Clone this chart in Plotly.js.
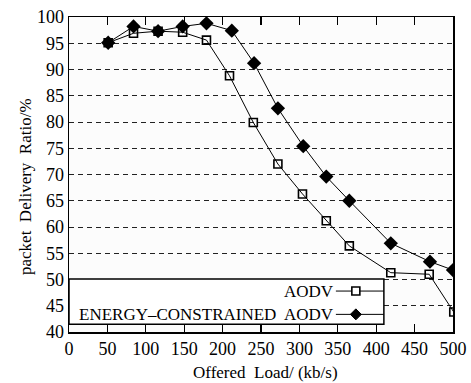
<!DOCTYPE html>
<html><head><meta charset="utf-8">
<script src="https://cdn.plot.ly/plotly-3.0.1.min.js"></script>
<style>html,body{margin:0;padding:0;background:#fff}#chart{width:471px;height:383px}</style>
</head><body><div id="chart"></div>
<script>
const loadEC = [51, 84, 116, 148, 179, 212, 241, 272, 305, 335, 365, 419, 470, 500];
const pdrEC  = [95.1, 98.2, 97.3, 98.2, 98.8, 97.4, 91.2, 82.6, 75.4, 69.6, 65.0, 56.9, 53.4, 51.8];
const loadAODV = [51, 84, 116, 148, 179, 209, 240, 272, 304, 335, 365, 419, 469, 501];
const pdrAODV  = [95.1, 96.9, 97.3, 97.1, 95.6, 88.8, 79.9, 72.0, 66.3, 61.2, 56.4, 51.3, 51.0, 43.8];
const xTicks = [0, 50, 100, 150, 200, 250, 300, 350, 400, 450, 500];
const yTicks = [40, 45, 50, 55, 60, 65, 70, 75, 80, 85, 90, 95, 100];
const seriesNames = ['AODV', 'ENERGY\u2013CONSTRAINED  AODV'];
const xTitle = 'Offered  Load/ (kb/s)';
const yTitle = 'packet  Delivery  Ratio/%';

const font = 'Liberation Serif, Times New Roman, serif';
const traces = [
  {x: loadAODV, y: pdrAODV, mode: 'lines+markers', name: seriesNames[0], showlegend: false,
   line: {color: '#000', width: 1},
   marker: {symbol: 'square-open', size: 8, color: '#000', line: {width: 1.6, color: '#000'}}},
  {x: loadEC, y: pdrEC, mode: 'lines+markers', name: seriesNames[1], showlegend: false,
   line: {color: '#000', width: 1},
   marker: {symbol: 'diamond', size: 11, color: '#000'}}
];

// legend geometry (paper coords)
const lgX0 = 0, lgX1 = 0.82, lgY0 = 0.025, lgY1 = 0.168;
const rows = [0.130, 0.056];
const sx0 = 0.695, sx1 = 0.82, mx = 0.747;
const shapes = [
  {type: 'rect', xref: 'paper', yref: 'paper', x0: lgX0, x1: lgX1, y0: lgY0, y1: lgY1,
   fillcolor: '#fff', line: {color: '#000', width: 1.5}, layer: 'above'},
];
const annotations = [];
rows.forEach((ry, i) => {
  shapes.push({type: 'line', xref: 'paper', yref: 'paper', x0: sx0, x1: sx1, y0: ry, y1: ry,
    line: {color: '#000', width: 1}, layer: 'above'});
  annotations.push({xref: 'paper', yref: 'paper', x: sx0, y: ry, xanchor: 'right', yanchor: 'middle',
    text: seriesNames[i], showarrow: false, font: {family: font, size: 17, color: '#000'}});
});
const hw = 4/384, hh = 4/315;
shapes.push({type: 'rect', xref: 'paper', yref: 'paper', x0: mx - hw, x1: mx + hw, y0: rows[0] - hh, y1: rows[0] + hh,
  fillcolor: '#fff', line: {color: '#000', width: 1.6}, layer: 'above'});
const dw = 5.5/384, dh = 5.5/315;
shapes.push({type: 'path', xref: 'paper', yref: 'paper',
  path: `M ${mx - dw} ${rows[1]} L ${mx} ${rows[1] + dh} L ${mx + dw} ${rows[1]} L ${mx} ${rows[1] - dh} Z`,
  fillcolor: '#000', line: {color: '#000', width: 1}, layer: 'above'});

annotations.push({xref: 'paper', yref: 'paper', x: 0.513, y: -0.127, xanchor: 'center', yanchor: 'middle',
  text: xTitle, showarrow: false, font: {family: font, size: 17, color: '#000'}});
annotations.push({xref: 'paper', yref: 'paper', x: -0.115, y: 0.463, xanchor: 'center', yanchor: 'middle',
  textangle: -90, text: yTitle, showarrow: false, font: {family: font, size: 17, color: '#000'}});

const layout = {
  width: 471, height: 383,
  margin: {l: 69, r: 18, t: 17, b: 51},
  paper_bgcolor: '#fff', plot_bgcolor: '#fcfcfc',
  showlegend: false,
  font: {family: font, color: '#000'},
  xaxis: {range: [0, 500], tickvals: xTicks, ticktext: xTicks.map(String),
    ticks: 'inside', ticklen: 8, tickwidth: 1.2, tickcolor: '#000',
    showline: true, linecolor: '#000', linewidth: 1.5, mirror: 'ticks',
    showgrid: false, zeroline: false,
    tickfont: {family: font, size: 18, color: '#000'}},
  yaxis: {range: [40, 100], tickvals: yTicks, ticktext: yTicks.map(String),
    ticks: '', showline: true, linecolor: '#000', linewidth: 1.5, mirror: true,
    showgrid: true, gridcolor: '#222', gridwidth: 1, griddash: '5px,4px', zeroline: false,
    tickfont: {family: font, size: 18, color: '#000'}},
  shapes: shapes,
  annotations: annotations
};
Plotly.newPlot('chart', traces, layout, {staticPlot: true, displayModeBar: false});
</script></body></html>
